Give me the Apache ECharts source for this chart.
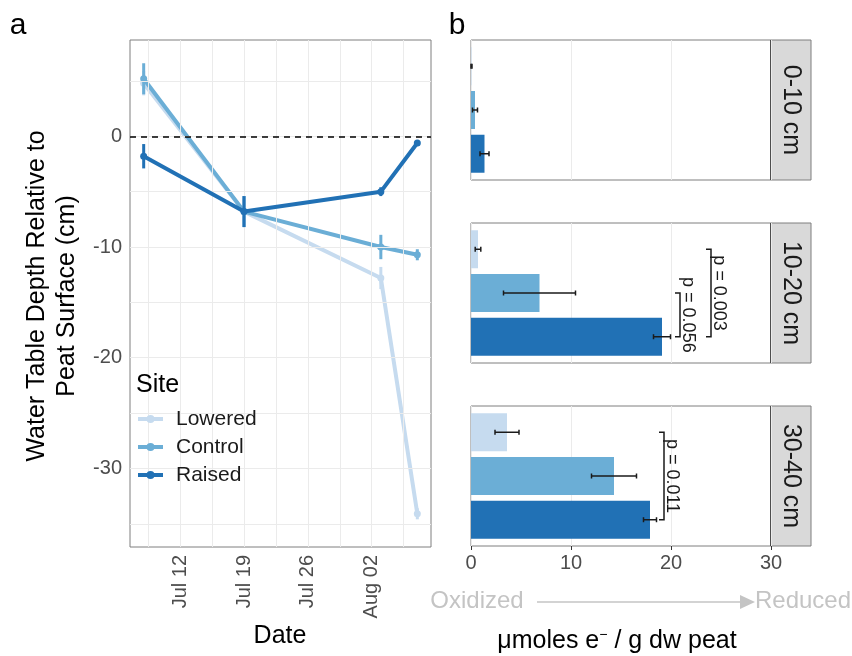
<!DOCTYPE html>
<html>
<head>
<meta charset="utf-8">
<script src="https://cdn.jsdelivr.net/npm/echarts@6/dist/echarts.min.js"></script>
<style>
  html, body { margin: 0; padding: 0; background: #fff; }
  #chart { width: 852px; height: 656px; }
</style>
</head>
<body>
<div id="chart"></div>
<script>
// panel a: water table depth by site
const sites = ['Lowered', 'Control', 'Raised']
const siteColors = ['#c6dbef', '#6baed6', '#2171b5']
const sampleDates = ['2021-07-08', '2021-07-19', '2021-08-03', '2021-08-07']
const depthLowered = [4.8, -6.8, -12.8, -34.1]
const depthControl = [5.2, -6.8, -10.0, -10.7]
const depthRaised = [-1.8, -6.8, -5.0, -0.6]
const depthErrLowered = [1.1, 1.4, 1.0, 0.5]
const depthErrControl = [1.4, 1.4, 1.1, 0.5]
const depthErrRaised = [1.1, 1.4, 0.4, 0.2]
const dateTicks = ['2021-07-12', '2021-07-19', '2021-07-26', '2021-08-02']
const dateTickLabels = ['Jul 12', 'Jul 19', 'Jul 26', 'Aug 02']
const depthTicks = [-30, -20, -10, 0]

// panel b: umoles e- per g dw peat, by depth layer
const depthLayers = ['0-10 cm', '10-20 cm', '30-40 cm']
const eLayer1 = [0.05, 0.4, 1.35]
const eLayer2 = [0.7, 6.85, 19.1]
const eLayer3 = [3.6, 14.3, 17.9]
const eErr1 = [0.05, 0.25, 0.45]
const eErr2 = [0.28, 3.6, 0.85]
const eErr3 = [1.2, 2.25, 0.65]
// p-value brackets: [layer, from site, to site, x value, label]
const sigTests = [
  [1, 0, 2, 24.0, 'p = 0.003'],
  [1, 1, 2, 20.9, 'p = 0.056'],
  [2, 0, 2, 19.3, 'p = 0.011']
]

const FONT = 'Liberation Sans, Arial, sans-serif'
const day = s => (Date.parse(s) - Date.parse('2021-07-12')) / 864e5
const xDays = sampleDates.map(day)
const tickDays = dateTicks.map(day)
const depthVals = [depthLowered, depthControl, depthRaised]
const depthErrs = [depthErrLowered, depthErrControl, depthErrRaised]
const layerVals = [eLayer1, eLayer2, eLayer3]
const layerErrs = [eErr1, eErr2, eErr3]

const xMin = -5.5, xMax = 27.5, yMin = -37.1, yMax = 8.7
// ggplot style major + minor grid lines
let gridX = [], gridY = []
for (let d = -7; d < xMax; d += 3.5) if (d > xMin) gridX.push(d)
for (let v = -35; v < yMax; v += 5) gridY.push(v)

let grids = [{left: 130, top: 40, width: 301, height: 507, show: true, borderColor: '#7f7f7f', borderWidth: 1}]
let xAxes = [{
  gridIndex: 0, type: 'value', min: xMin, max: xMax,
  splitLine: {show: false},
  axisLine: {show: false},
  axisTick: {show: true, customValues: tickDays, length: 4, lineStyle: {color: '#333'}},
  axisLabel: {
    customValues: tickDays, rotate: 90, margin: 8, fontSize: 20, color: '#4d4d4d', fontFamily: FONT,
    formatter: v => dateTickLabels[tickDays.indexOf(v)]
  }
}]
let yAxes = [{
  gridIndex: 0, type: 'value', min: yMin, max: yMax,
  splitLine: {show: false},
  axisLine: {show: false},
  axisTick: {show: true, customValues: depthTicks, length: 4, lineStyle: {color: '#333'}},
  axisLabel: {customValues: depthTicks, margin: 8, fontSize: 20, color: '#4d4d4d', fontFamily: FONT}
}]

let series = [{
  type: 'line', xAxisIndex: 0, yAxisIndex: 0, data: [], silent: true, z: 1,
  markLine: {
    silent: true, symbol: ['none', 'none'], label: {show: false},
    lineStyle: {color: '#ebebeb', width: 1, type: 'solid'},
    data: gridX.map(v => ({xAxis: v})).concat(gridY.map(v => ({yAxis: v})))
  }
}, {
  type: 'line', xAxisIndex: 0, yAxisIndex: 0, data: [], silent: true, z: 2,
  markLine: {
    silent: true, symbol: ['none', 'none'], label: {show: false},
    lineStyle: {color: '#000', width: 1.5, type: [6, 5]},
    data: [{yAxis: 0}]
  }
}]

sites.forEach((name, i) => {
  series.push({
    name: name, type: 'line', xAxisIndex: 0, yAxisIndex: 0, z: 3 + i,
    data: xDays.map((d, j) => [d, depthVals[i][j]]),
    color: siteColors[i],
    lineStyle: {width: 4},
    symbol: 'circle', symbolSize: 7, showSymbol: true
  })
  series.push({
    type: 'custom', xAxisIndex: 0, yAxisIndex: 0, z: 3 + i, silent: true,
    data: xDays.map((d, j) => [d, depthVals[i][j] - depthErrs[i][j], depthVals[i][j] + depthErrs[i][j]]),
    encode: {x: 0, y: [1, 2]},
    renderItem: (params, api) => {
      let a = api.coord([api.value(0), api.value(1)])
      let b = api.coord([api.value(0), api.value(2)])
      return {type: 'line', shape: {x1: a[0], y1: a[1], x2: b[0], y2: b[1]},
        style: {stroke: siteColors[i], lineWidth: 3}}
    }
  })
})

// panel b facets: outer grid = panel frame, inner grid = bar bands
const panelTop = [40, 223, 406]
const panelH = 140
const inset = 4.4
depthLayers.forEach((layer, k) => {
  let last = k === depthLayers.length - 1
  grids.push({left: 471, top: panelTop[k], width: 300, height: panelH, show: true, borderColor: '#7f7f7f', borderWidth: 1})
  grids.push({left: 471, top: panelTop[k] + inset, width: 300, height: panelH - 2 * inset})
  let go = grids.length - 2, gi = grids.length - 1
  xAxes.push({
    gridIndex: go, type: 'value', min: 0, max: 30, interval: 10,
    splitLine: {show: true, lineStyle: {color: '#ebebeb', width: 1}},
    axisLine: {show: false},
    axisTick: {show: last, length: 4, lineStyle: {color: '#333'}},
    axisLabel: {show: last, margin: 7, fontSize: 20, color: '#4d4d4d', fontFamily: FONT}
  })
  yAxes.push({gridIndex: go, type: 'value', show: false})
  xAxes.push({gridIndex: gi, type: 'value', min: 0, max: 30, show: false})
  yAxes.push({gridIndex: gi, type: 'category', data: sites, inverse: true, show: false})

  series.push({
    type: 'bar', xAxisIndex: gi, yAxisIndex: gi, barWidth: 38, z: 2, silent: true,
    data: layerVals[k].map((v, i) => ({value: v, itemStyle: {color: siteColors[i]}}))
  })
  series.push({
    type: 'custom', xAxisIndex: gi, yAxisIndex: gi, z: 4, silent: true, clip: false,
    data: layerVals[k].map((v, i) => [v - layerErrs[k][i], v + layerErrs[k][i], i]),
    encode: {x: [0, 1], y: 2},
    renderItem: (params, api) => {
      let a = api.coord([api.value(0), api.value(2)])
      let b = api.coord([api.value(1), api.value(2)])
      let st = {stroke: '#1a1a1a', lineWidth: 1.5}
      return {type: 'group', children: [
        {type: 'line', shape: {x1: a[0], y1: a[1], x2: b[0], y2: b[1]}, style: st},
        {type: 'line', shape: {x1: a[0], y1: a[1] - 2.5, x2: a[0], y2: a[1] + 2.5}, style: st},
        {type: 'line', shape: {x1: b[0], y1: b[1] - 2.5, x2: b[0], y2: b[1] + 2.5}, style: st}
      ]}
    }
  })
  let tests = sigTests.filter(t => t[0] === k)
  if (tests.length) {
    series.push({
      type: 'custom', xAxisIndex: gi, yAxisIndex: gi, z: 5, silent: true, clip: false,
      data: tests.map(t => [t[3], t[1], t[2]]),
      encode: {x: 0, y: [1, 2]},
      renderItem: (params, api) => {
        let top = api.coord([api.value(0), api.value(1)])
        let bot = api.coord([api.value(0), api.value(2)])
        return {type: 'group', children: [
          {type: 'polyline', shape: {points: [[top[0] - 5, top[1]], top, bot, [bot[0] - 5, bot[1]]]},
            style: {stroke: '#1a1a1a', lineWidth: 1.5, fill: null}},
          {type: 'text', x: top[0] + 8, y: (top[1] + bot[1]) / 2, rotation: -Math.PI / 2,
            style: {text: tests[params.dataIndex][4], x: 0, y: 0, align: 'center', verticalAlign: 'middle',
              textAlign: 'center', textVerticalAlign: 'middle', fontSize: 18, fontFamily: FONT, fill: '#1a1a1a'}}
        ]}
      }
    })
  }
})

// strips, titles and the oxidized/reduced arrow
let graphics = []
depthLayers.forEach((layer, k) => {
  graphics.push({type: 'rect', shape: {x: 771, y: panelTop[k], width: 40, height: panelH},
    style: {fill: '#d9d9d9', stroke: '#7f7f7f', lineWidth: 1}})
  graphics.push({type: 'line', shape: {x1: 771, y1: panelTop[k], x2: 771, y2: panelTop[k] + panelH},
    style: {stroke: '#333', lineWidth: 1.5}})
  graphics.push({type: 'text', x: 791, y: panelTop[k] + panelH / 2, rotation: -Math.PI / 2,
    style: {text: layer, x: 0, y: 0, align: 'center', verticalAlign: 'middle', textAlign: 'center',
      textVerticalAlign: 'middle', fontSize: 25, fontFamily: FONT, fill: '#1a1a1a'}})
})
const txt = (s, x, y, size, extra) => Object.assign({type: 'text', x: x, y: y, z: 10,
  style: Object.assign({text: s, x: 0, y: 0, fontSize: size, fontFamily: FONT, fill: '#000',
    align: 'center', verticalAlign: 'middle', textAlign: 'center', textVerticalAlign: 'middle'}, extra || {})})
// legend background hides the grid lines, like ggplot
graphics.push({type: 'rect', z: 2, shape: {x: 131, y: 367, width: 134, height: 127}, style: {fill: '#fff'}})
graphics.push(txt('a', 18, 26, 30))
graphics.push(txt('b', 457, 26, 30))
graphics.push(Object.assign(txt('Water Table Depth Relative to\nPeat Surface (cm)', 52, 296, 25, {lineHeight: 30}),
  {rotation: Math.PI / 2}))
graphics.push(txt('Date', 280, 636, 25))
graphics.push(txt('Site', 136, 385, 25, {align: 'left', textAlign: 'left'}))
graphics.push(txt('Oxidized', 477, 601, 24, {fill: '#c4c4c4'}))
graphics.push(txt('Reduced', 803, 601, 24, {fill: '#c4c4c4'}))
graphics.push({type: 'line', shape: {x1: 537, y1: 602, x2: 742, y2: 602}, style: {stroke: '#c4c4c4', lineWidth: 1.5}})
graphics.push({type: 'polygon', shape: {points: [[740, 595], [755, 602], [740, 609]]}, style: {fill: '#c4c4c4'}})
graphics.push({type: 'text', x: 617, y: 641,
  style: {text: 'μmoles e{s|−} / g dw peat', x: 0, y: 0, fontSize: 25, fontFamily: FONT, fill: '#000',
    align: 'center', verticalAlign: 'middle', textAlign: 'center', textVerticalAlign: 'middle',
    rich: {s: {fontSize: 14, fontFamily: FONT, fill: '#000', verticalAlign: 'top', padding: [0, 0, 12, 0]}}}})

let chart = echarts.init(document.getElementById('chart'))
chart.setOption({
  animation: false,
  backgroundColor: '#fff',
  textStyle: {fontFamily: FONT},
  grid: grids,
  xAxis: xAxes,
  yAxis: yAxes,
  legend: {
    data: sites, orient: 'vertical', left: 136, top: 407, padding: 0, z: 10,
    itemWidth: 25, itemHeight: 10, itemGap: 4, selectedMode: false,
    lineStyle: {width: 4},
    textStyle: {fontSize: 21, color: '#1a1a1a', lineHeight: 24, fontFamily: FONT, padding: [0, 0, 0, 8]}
  },
  series: series,
  graphic: graphics
})
</script>
</body>
</html>
